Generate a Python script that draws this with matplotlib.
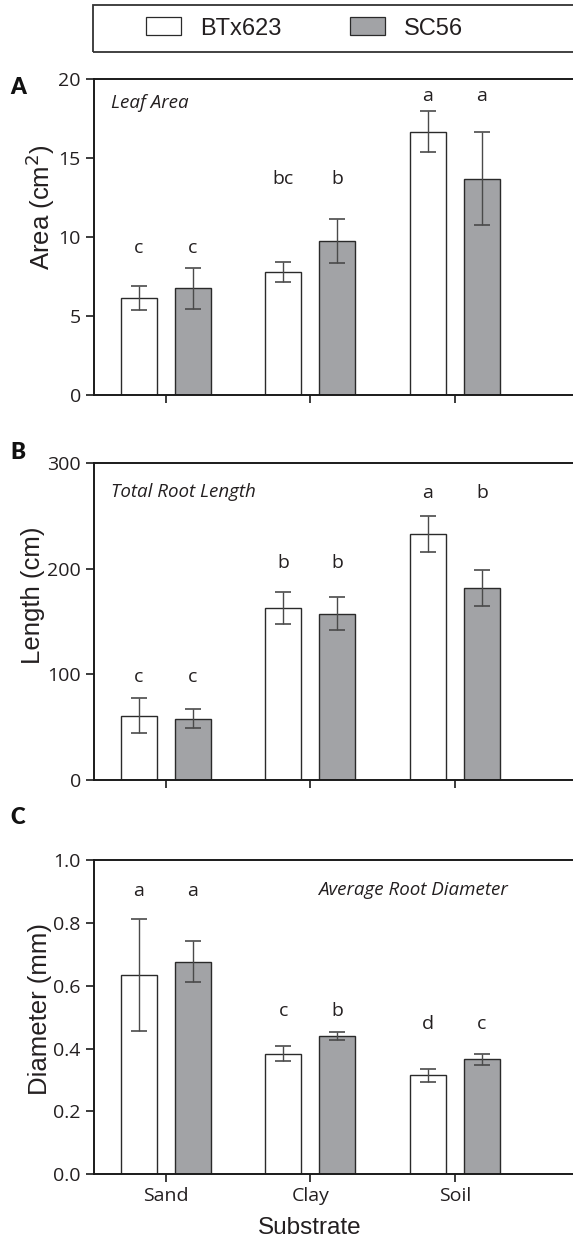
import matplotlib
matplotlib.use("Agg")
import matplotlib.pyplot as plt
from matplotlib.patches import Rectangle, Patch
import numpy as np

# ---------------- data ----------------
categories = ["Sand", "Clay", "Soil"]
genotypes = ["BTx623", "SC56"]

area_btx = [6.15, 7.77, 16.67]
area_btx_err = [0.76, 0.64, 1.32]
area_sc = [6.75, 9.75, 13.70]
area_sc_err = [1.30, 1.42, 2.97]
area_letters_btx = ["c", "bc", "a"]
area_letters_sc = ["c", "b", "a"]
area_letter_y = [9.3, 13.7, 18.9]

len_btx = [61.0, 163.0, 233.0]
len_btx_err = [16.5, 15.0, 17.0]
len_sc = [58.0, 157.5, 182.0]
len_sc_err = [9.2, 16.0, 17.0]
len_letters_btx = ["c", "b", "a"]
len_letters_sc = ["c", "b", "b"]
len_letter_y = [97.8, 205.0, 272.0]

dia_btx = [0.634, 0.383, 0.315]
dia_btx_err = [0.177, 0.024, 0.021]
dia_sc = [0.676, 0.440, 0.366]
dia_sc_err = [0.065, 0.014, 0.017]
dia_letters_btx = ["a", "c", "d"]
dia_letters_sc = ["a", "b", "c"]
dia_letter_y = [0.902, 0.52, 0.478]

area_ticks = [0, 5, 10, 15, 20]
len_ticks = [0, 100, 200, 300]
dia_ticks = [0.0, 0.2, 0.4, 0.6, 0.8, 1.0]

# ---------------- style ----------------
W, H = 573, 1247
fig = plt.figure(figsize=(W / 100, H / 100), dpi=100)

TICKFONT = "Open Sans"
LABFONT = "Liberation Sans"
WHITE = "white"
GREY = "#a2a3a6"
EDGE = "#2a2a2a"
TXT = "#231f20"

xpos = np.arange(len(categories))
bw = 0.249
off = 0.187
xlim = (-0.498, 2.817)


def px_rect(top, bottom):
    l = 94 / W
    b = 1 - bottom / H
    t = 1 - top / H
    return [l, b, 1.0 - l, t - b]


def panel(rect, b_vals, b_err, s_vals, s_err, lb, ls, ly, ticks, ylabel, ylab_xy,
          title, title_xy, fmt, letter, letter_y, xlabels=False):
    ax = fig.add_axes(rect)
    ax.bar(xpos - off, b_vals, bw, color=WHITE, edgecolor=EDGE, linewidth=1.0, zorder=2)
    ax.bar(xpos + off, s_vals, bw, color=GREY, edgecolor=EDGE, linewidth=1.0, zorder=2)
    for xs, v, e in ((xpos - off, b_vals, b_err), (xpos + off, s_vals, s_err)):
        cont = ax.errorbar(xs, v, yerr=e, fmt="none", ecolor="#4a4a4a",
                           elinewidth=1.0, capsize=6, capthick=1.2, zorder=3)
        for cl in cont[1]:
            cl.set_color("#1a1a1a")
    for i in range(len(categories)):
        ax.text(xpos[i] - off, ly[i], lb[i], ha="center", va="center",
                fontsize=14, family=TICKFONT, color=TXT)
        ax.text(xpos[i] + off, ly[i], ls[i], ha="center", va="center",
                fontsize=14, family=TICKFONT, color=TXT)
    ax.set_xlim(*xlim)
    ax.set_ylim(ticks[0], ticks[-1])
    ax.set_yticks(ticks)
    ax.set_yticklabels([fmt.format(t) for t in ticks], family=TICKFONT,
                       fontsize=14, color=TXT)
    ax.set_xticks(xpos)
    if xlabels:
        ax.set_xticklabels(categories, family=TICKFONT, fontsize=14, color=TXT)
        ax.set_xlabel("Substrate", family=LABFONT, fontsize=17.5, color=TXT)
        ax.xaxis.set_label_coords((310 - 94) / (W - 94), -0.135)
    else:
        ax.set_xticklabels([])
    ax.spines["right"].set_visible(False)
    for s in ("left", "top", "bottom"):
        ax.spines[s].set_linewidth(1.4)
        ax.spines[s].set_color("#1a1a1a")
    ax.tick_params(axis="both", direction="out", length=6, width=1.2, color="#1a1a1a")
    fig.text(ylab_xy[0] / W, 1 - ylab_xy[1] / H, ylabel, rotation=90, ha="center",
             va="center", family=LABFONT, fontsize=18.5, color=TXT)
    ax.text(title_xy[0] / W, 1 - title_xy[1] / H, title, transform=fig.transFigure,
            ha="left", va="center", style="italic", family=TICKFONT,
            fontsize=13.5, color=TXT)
    fig.text(18 / W, 1 - letter_y / H, letter, ha="center", va="center",
             family="Lato", fontweight="heavy", fontsize=16, color="#111111")
    return ax


panel(px_rect(79, 395), area_btx, area_btx_err, area_sc, area_sc_err,
      area_letters_btx, area_letters_sc, area_letter_y, area_ticks,
      "Area (cm$^2$)", (40, 207), "Leaf Area", (111, 103), "{:d}", "A", 88)
panel(px_rect(463, 780), len_btx, len_btx_err, len_sc, len_sc_err,
      len_letters_btx, len_letters_sc, len_letter_y, len_ticks,
      "Length (cm)", (33, 595), "Total Root Length", (111, 492), "{:d}", "B", 453)
panel(px_rect(860, 1174.3), dia_btx, dia_btx_err, dia_sc, dia_sc_err,
      dia_letters_btx, dia_letters_sc, dia_letter_y, dia_ticks,
      "Diameter (mm)", (40, 1009), "Average Root Diameter", (318, 890), "{:.1f}", "C", 818,
      xlabels=True)

# legend frame and legend
fig.add_artist(Rectangle((93 / W, 1 - 52 / H), 1.0, 47 / H, transform=fig.transFigure,
                         fill=False, edgecolor="#333333", linewidth=1.3, clip_on=False))
handles = [Patch(facecolor=WHITE, edgecolor=EDGE, linewidth=0.9, label=genotypes[0]),
           Patch(facecolor=GREY, edgecolor=EDGE, linewidth=0.9, label=genotypes[1])]
fig.legend(handles=handles, loc="center left", bbox_to_anchor=(146 / W, 1 - 28.5 / H),
           ncol=2, frameon=False, prop={"family": LABFONT, "size": 17},
           handlelength=1.48, handleheight=0.8, handletextpad=0.8, columnspacing=2.9,
           borderpad=0, borderaxespad=0, labelcolor=TXT)

fig.savefig("out.png", dpi=100)
